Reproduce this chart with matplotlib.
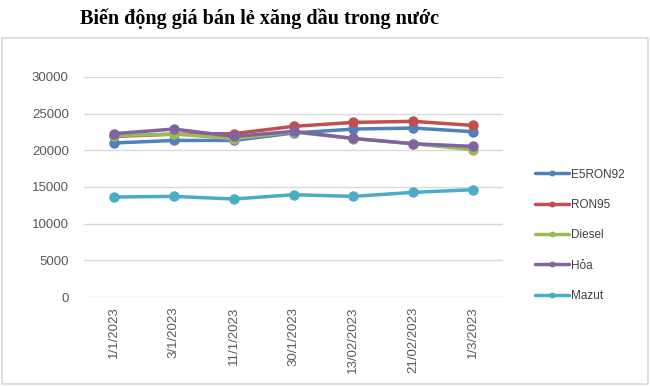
import matplotlib
matplotlib.use("Agg")
import matplotlib.pyplot as plt
from matplotlib.patches import Rectangle

dates = ["1/1/2023", "3/1/2023", "11/1/2023", "30/1/2023", "13/02/2023", "21/02/2023", "1/3/2023"]
e5ron92 = [21000, 21350, 21350, 22360, 22900, 23040, 22540]
ron95 = [21900, 22200, 22270, 23270, 23810, 23950, 23400]
diesel = [22000, 22230, 21590, 22500, 21600, 20900, 20080]
hoa = [22270, 22900, 21900, 22580, 21630, 20900, 20540]
mazut = [13630, 13720, 13360, 13950, 13720, 14270, 14630]

names = ["E5RON92", "RON95", "Diesel", "Hỏa", "Mazut"]
series = [e5ron92, ron95, diesel, hoa, mazut]
colors = ["#4F81BD", "#C0504D", "#9BBB59", "#8064A2", "#4BACC6"]

W, H = 650, 386
fig = plt.figure(figsize=(6.5, 3.86), dpi=100)
fig.patch.set_facecolor("white")

# chart frame
fig.add_artist(Rectangle((2 / W, 1 - 384 / H), 646 / W, 346 / H, transform=fig.transFigure,
                         fill=False, ec="#D9D9D9", lw=1.2))
fig.text(260 / W, 1 - 19 / H, "Biến động giá bán lẻ xăng dầu trong nước", ha="center", va="center",
         family="Liberation Serif", weight="bold", fontsize=14.5, color="black")

ax = fig.add_axes([84 / W, 1 - 297 / H, 419 / W, 220 / H])
x = list(range(len(dates)))
for name, vals, c in zip(names, series, colors):
    ax.plot(x, vals, color=c, lw=2.5, marker="o", ms=6.5, label=name, solid_capstyle="round")

ax.set_xlim(-0.5, len(dates) - 0.5)
ax.set_ylim(0, 30000)
ax.set_yticks(range(0, 30001, 5000))
ax.set_xticks(x)
ax.set_xticklabels(dates, rotation=90, ha="center", va="top")
ax.tick_params(length=0, labelsize=9.5, labelcolor="#595959")
ax.tick_params(axis="x", pad=7)
ax.tick_params(axis="y", pad=11)
for lab in ax.get_xticklabels() + ax.get_yticklabels():
    lab.set_family("Liberation Sans")
ax.grid(axis="y", color="#D9D9D9", lw=1)
ax.set_axisbelow(True)
for s in ax.spines.values():
    s.set_visible(False)

leg = fig.legend(loc="upper left", bbox_to_anchor=(524 / W, 1 - 158 / H), frameon=False,
                 handlelength=2.9, handletextpad=0.2, labelspacing=1.55, markerscale=0.5,
                 prop={"family": "Liberation Sans", "size": 8.5})
for t in leg.get_texts():
    t.set_color("#404040")

fig.savefig("out.png", dpi=100, facecolor="white")
